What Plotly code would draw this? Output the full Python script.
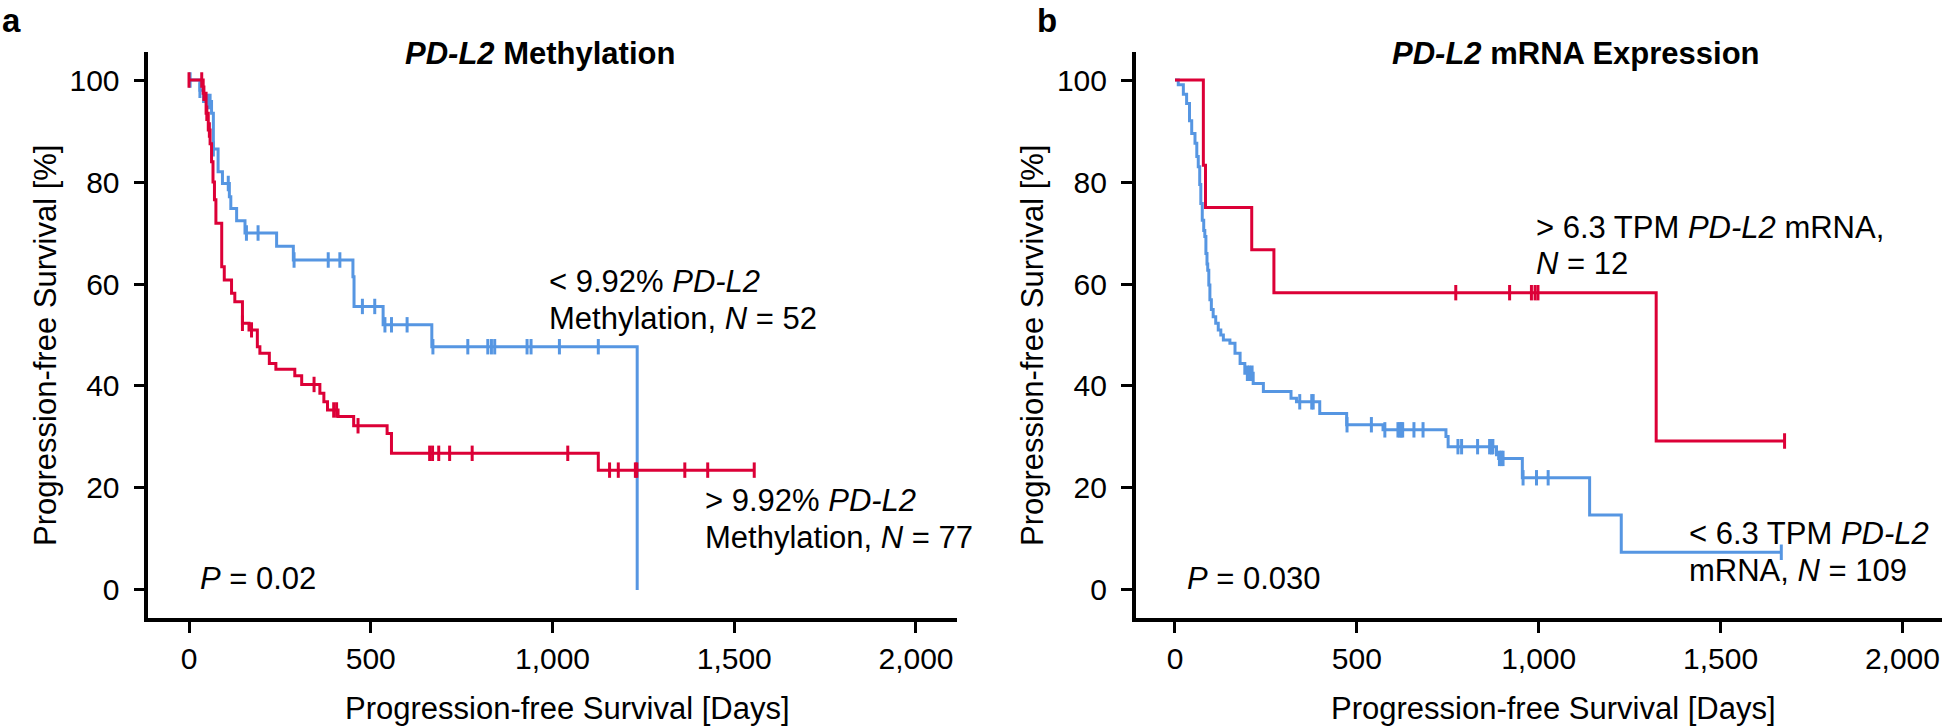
import numpy as np
import plotly.graph_objects as go

# ---------------- data ----------------
# Panel a: PD-L2 methylation
a_low_t = [0, 30, 40, 62, 67, 80, 92, 111, 115, 131, 154, 241, 287, 451, 454, 534, 668, 1233]
a_low_s = [100, 98.0, 95.8, 93.5, 86.5, 82.0, 79.7, 77.1, 74.8, 72.4, 70.0, 67.4, 64.7, 61.4, 55.6, 52.0, 47.7, 0]
a_low_end = 1233
a_low_cens = [3, 30, 52, 58, 67, 108, 158, 190, 289, 383, 415, 477, 511, 539, 557, 600, 671,
              767, 822, 832, 841, 930, 941, 1019, 1126]

a_high_t = [0, 39, 47, 53, 58, 62, 66, 70, 74, 90, 97, 117, 126, 147, 165, 188, 195, 221, 239,
            291, 310, 360, 371, 381, 410, 453, 545, 557, 1126]
a_high_s = [100, 97.4, 93.5, 90.2, 87.5, 84.0, 80.0, 76.5, 71.9, 63.4, 60.8, 58.2, 56.5, 52.3, 51.0,
            47.7, 46.4, 44.4, 43.3, 42.0, 40.3, 38.6, 36.9, 35.3, 34.0, 32.2, 30.7, 26.8, 23.5]
a_high_end = 1555
a_high_cens = [0, 35, 41, 49, 56, 147, 172, 344, 398, 406, 465, 662, 670, 687, 717, 779, 1042,
               1157, 1181, 1228, 1232, 1364, 1427, 1555]

# Panel b: PD-L2 mRNA expression
b_low_t = [0, 9, 23, 32, 40, 46, 55, 60, 64, 68, 71, 75, 79, 82, 85, 88, 90, 93, 96, 100, 105, 112,
           119, 126, 133, 151, 165, 179, 192, 215, 243, 319, 334, 398, 472, 572, 745, 751, 884, 890,
           955, 1140, 1227]
b_low_s = [100, 99.1, 97.2, 95.4, 92.0, 89.5, 87.6, 85.0, 83.0, 79.5, 75.8, 72.5, 70.5, 69.3, 66.0,
           63.9, 62.7, 59.8, 56.9, 55.0, 53.6, 52.3, 51.0, 50.0, 49.0, 48.4, 46.4, 44.4, 42.5, 40.5,
           38.9, 37.6, 36.9, 34.6, 32.4, 31.4, 30.1, 28.1, 26.5, 25.8, 22.0, 14.7, 7.4]
b_low_end = 1667
b_low_cens = [199, 205, 212, 343, 376, 380, 473, 540, 577, 613, 618, 622, 626, 657, 682, 778, 788,
              832, 865, 870, 874, 892, 897, 902, 957, 994, 1026, 1667]

b_high_t = [0, 78, 84, 211, 272, 1323]
b_high_s = [100, 83.3, 75.0, 66.7, 58.3, 29.2]
b_high_end = 1676
b_high_cens = [772, 920, 980, 990, 998, 1676]

x_tickvals = [0, 500, 1000, 1500, 2000]
x_ticktext = ["0", "500", "1,000", "1,500", "2,000"]
y_tickvals = [0, 20, 40, 60, 80, 100]

# ---------------- styling ----------------
W, H = 1946, 728
FONT = "Liberation Sans, Arial, Helvetica, sans-serif"
RED = "rgb(220,0,55)"
BLUE = "rgb(86,150,226)"


def px(x):
    return x / W


def py(y):
    return 1 - y / H


def km_xy(t, s, end):
    return list(t) + [end], list(s) + [s[-1]]


def cens_y(t, s, ct):
    idx = np.searchsorted(np.asarray(t), np.asarray(ct), side="right") - 1
    return np.asarray(s)[idx]


fig = go.Figure()

panels = [
    ("x", "y", (a_low_t, a_low_s, a_low_end, a_low_cens), (a_high_t, a_high_s, a_high_end, a_high_cens)),
    ("x2", "y2", (b_low_t, b_low_s, b_low_end, b_low_cens), (b_high_t, b_high_s, b_high_end, b_high_cens)),
]

for xa, ya, low, high in panels:
    for (t, s, end, ct), col in ((low, BLUE), (high, RED)):
        lx, ly = km_xy(t, s, end)
        fig.add_trace(go.Scatter(x=lx, y=ly, mode="lines", line=dict(color=col, width=3, shape="hv"),
                                 xaxis=xa, yaxis=ya, hoverinfo="skip"))
        fig.add_trace(go.Scatter(x=ct, y=cens_y(t, s, ct), mode="markers",
                                 marker=dict(symbol="line-ns", size=11, line=dict(color=col, width=3)),
                                 xaxis=xa, yaxis=ya, hoverinfo="skip"))

axis_common = dict(showline=True, linewidth=3.5, linecolor="black", ticks="outside", ticklen=11,
                   tickwidth=3, tickcolor="black", showgrid=False, zeroline=False,
                   tickfont=dict(family=FONT, size=30, color="black"))

ydom = [py(618), py(52)]
fig.update_layout(
    width=W, height=H, margin=dict(l=0, r=0, t=0, b=0),
    paper_bgcolor="white", plot_bgcolor="white", showlegend=False,
    font=dict(family=FONT, color="black"),
    xaxis=dict(domain=[px(148.3), px(956.7)], range=[-112, 2112], tickvals=x_tickvals,
               ticktext=x_ticktext, anchor="y", ticklabelstandoff=0, **axis_common),
    yaxis=dict(domain=ydom, range=[-5.5, 105.5], tickvals=y_tickvals, anchor="x",
               ticklabelstandoff=8, **axis_common),
    xaxis2=dict(domain=[px(1135.7), px(1941.7)], range=[-108, 2108], tickvals=x_tickvals,
                ticktext=x_ticktext, anchor="y2", ticklabelstandoff=0, **axis_common),
    yaxis2=dict(domain=ydom, range=[-5.5, 105.5], tickvals=y_tickvals, anchor="x2",
                ticklabelstandoff=8, **axis_common),
)

FS = 31
annots = [
    # panel letters
    dict(text="<b>a</b>", x=1, y=20, xanchor="left", size=33),
    dict(text="<b>b</b>", x=1036, y=20, xanchor="left", size=33),
    # titles
    dict(text="<b><i>PD-L2</i> Methylation</b>", x=540, y=54, xanchor="center", size=FS),
    dict(text="<b><i>PD-L2</i> mRNA Expression</b>", x=1575.5, y=54, xanchor="center", size=FS),
    # group labels panel a
    dict(text="< 9.92% <i>PD-L2</i>", x=548, y=282, xanchor="left", size=FS),
    dict(text="Methylation, <i>N</i> = 52", x=548, y=318, xanchor="left", size=FS),
    dict(text="> 9.92% <i>PD-L2</i>", x=704, y=500, xanchor="left", size=FS),
    dict(text="Methylation, <i>N</i> = 77", x=704, y=537, xanchor="left", size=FS),
    dict(text="<i>P</i> = 0.02", x=199, y=578, xanchor="left", size=FS),
    # group labels panel b
    dict(text="> 6.3 TPM <i>PD-L2</i> mRNA,", x=1535, y=227, xanchor="left", size=FS),
    dict(text="<i>N</i> = 12", x=1535, y=263, xanchor="left", size=FS),
    dict(text="< 6.3 TPM <i>PD-L2</i>", x=1688, y=533, xanchor="left", size=FS),
    dict(text="mRNA, <i>N</i> = 109", x=1688, y=570, xanchor="left", size=FS),
    dict(text="<i>P</i> = 0.030", x=1186, y=578, xanchor="left", size=FS),
    # axis titles
    dict(text="Progression-free Survival [Days]", x=567, y=708, xanchor="center", size=FS),
    dict(text="Progression-free Survival [Days]", x=1553.5, y=708, xanchor="center", size=FS),
    dict(text="Progression-free Survival [%]", x=45, y=346, xanchor="center", size=FS, angle=-90),
    dict(text="Progression-free Survival [%]", x=1032, y=346, xanchor="center", size=FS, angle=-90),
]

for a in annots:
    fig.add_annotation(text=a["text"], x=px(a["x"]), y=py(a["y"]), xref="paper", yref="paper",
                       xanchor=a["xanchor"], yanchor="middle", showarrow=False,
                       textangle=a.get("angle", 0), borderpad=0,
                       font=dict(family=FONT, size=a["size"], color="black"))

fig.write_html("out.html", config={"displayModeBar": False},
               post_script="document.body.style.margin='0px';document.body.style.overflow='hidden';")
